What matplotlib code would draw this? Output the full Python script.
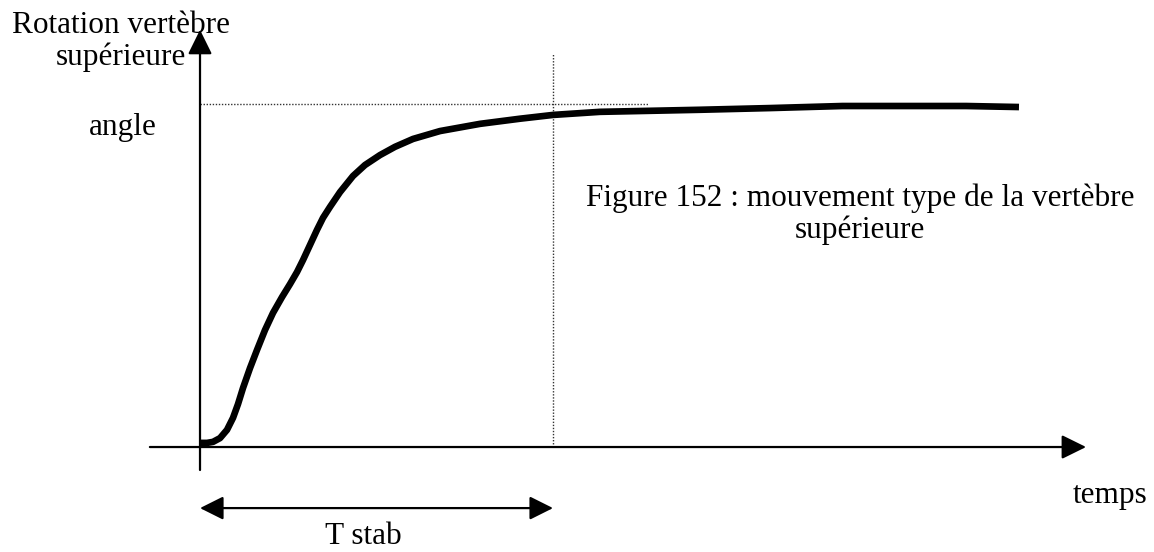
"""
Mouvement type de la vertèbre supérieure : rotation en fonction du temps
"""

import matplotlib.pyplot as plt

plt.rcParams['font.family'] = ['Liberation Serif', 'DejaVu Serif']

# Courbe de rotation (temps en unités arbitraires, angle normalisé à 1)
temps = [0.0, 0.198, 0.368, 0.567, 0.765, 0.935, 1.076, 1.218, 1.416, 1.615,
         1.841, 2.068, 2.323, 2.550, 2.748, 2.918, 3.116, 3.314, 3.484, 3.683,
         3.966, 4.334, 4.674, 5.099, 5.524, 6.034, 6.799, 7.932, 9.065, 10.0,
         11.33, 12.75, 14.16, 16.15, 18.2, 21.7, 23.2]
rotation = [0.012, 0.012, 0.015, 0.026, 0.050, 0.085, 0.125, 0.172, 0.230,
            0.283, 0.341, 0.391, 0.437, 0.475, 0.510, 0.545, 0.589, 0.633,
            0.668, 0.700, 0.743, 0.790, 0.822, 0.851, 0.875, 0.898, 0.921,
            0.942, 0.957, 0.968, 0.977, 0.980, 0.983, 0.988, 0.994, 0.994,
            0.991]

angle_final = 1.0
t_stab = 10.0

fig = plt.figure(figsize=(11.54, 5.52), dpi=100)
ax = fig.add_axes([0, 0, 1, 1])
ax.set_xlim(-5.666, 27.025)
ax.set_ylim(-0.306, 1.303)
ax.axis('off')

# Axes avec flèches
arrow = dict(arrowstyle='-|>,head_length=0.75,head_width=0.37', color='black',
             lw=1.6, mutation_scale=20, shrinkA=0, shrinkB=0)
ax.annotate('', xy=(25.1, 0), xytext=(-1.42, 0), arrowprops=arrow)
ax.annotate('', xy=(0, 1.216), xytext=(0, -0.067), arrowprops=arrow)

# Repères en pointillés
ax.plot([0, 12.69], [angle_final, angle_final], color='#333333', lw=1.0,
        linestyle=(0, (1, 1.2)))
ax.plot([t_stab, t_stab], [0, 1.146], color='#333333', lw=1.0,
        linestyle=(0, (1, 1.2)))

# Courbe
ax.plot(temps, rotation, color='black', lw=4.8, solid_capstyle='butt',
        solid_joinstyle='round')

# Durée de stabilisation
dbl = dict(arrowstyle='<|-|>,head_length=0.72,head_width=0.36', color='black',
           lw=1.6, mutation_scale=20, shrinkA=0, shrinkB=0)
ax.annotate('', xy=(t_stab, -0.178), xytext=(0, -0.178), arrowprops=dbl)

fs = 22.5
ax.text(-2.24, 1.181, 'Rotation vertèbre\nsupérieure', ha='center',
        va='center', multialignment='center', fontsize=fs, linespacing=1.1)
ax.text(-2.18, 0.93, 'angle', ha='center', va='center', fontsize=fs)
ax.text(18.7, 0.678, 'Figure 152 : mouvement type de la vertèbre\nsupérieure',
        ha='center', va='center', multialignment='center', fontsize=fs,
        linespacing=1.13)
ax.text(25.78, -0.14, 'temps', ha='center', va='center', fontsize=fs)
ax.text(4.62, -0.262, 'T stab', ha='center', va='center', fontsize=fs)

plt.savefig('out.png', dpi=100)
plt.close()
